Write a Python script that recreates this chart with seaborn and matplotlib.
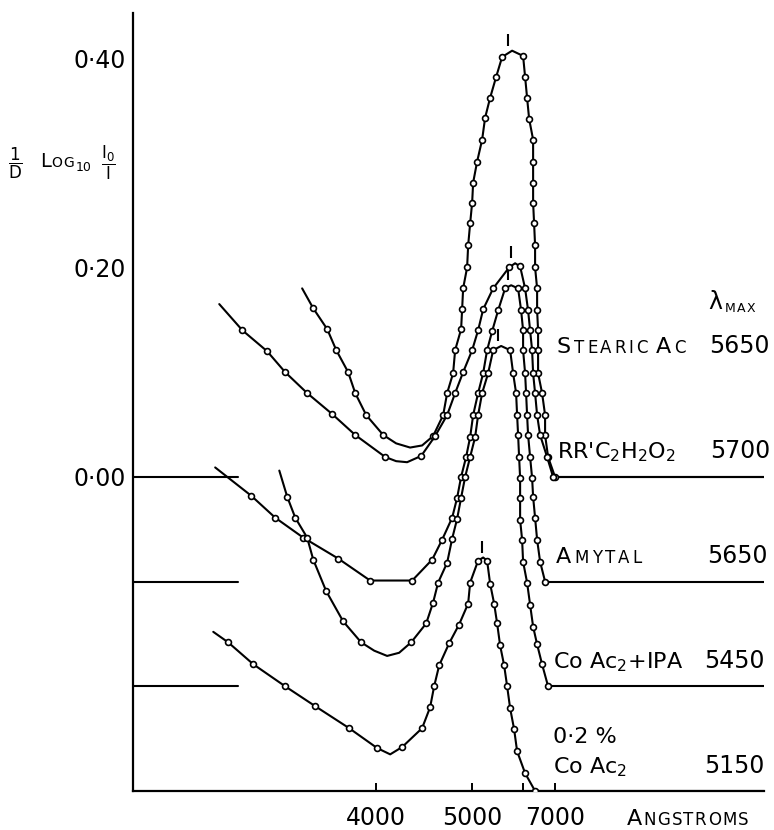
import numpy as np
import pandas as pd
import seaborn as sns
import matplotlib.pyplot as plt

# Absorption spectra (1/D log10 I0/I), wavelength in Angstroms.
# Each curve is drawn shifted down by its offset; *_BARE marks line-only points.
STEARIC_WL = [3567, 3621, 3694, 3744, 3814, 3858, 3930, 4052, 4154, 4275, 4389, 4503,
              4616, 4663, 4737, 4763, 4842, 4856, 4870, 4926, 4941, 4970, 5000, 5015,
              5076, 5157, 5207, 5294, 5405, 5522, 5735, 5999, 6051, 6104, 6159, 6272,
              6272, 6272, 6272, 6301, 6330, 6330, 6391, 6391, 6421, 6421, 6421, 6548,
              6648, 6648, 6752, 7010]
STEARIC_ABS = [0.180, 0.161, 0.141, 0.121, 0.100, 0.080, 0.059, 0.040, 0.032, 0.028,
               0.030, 0.039, 0.059, 0.080, 0.099, 0.121, 0.141, 0.160, 0.180, 0.200,
               0.221, 0.242, 0.262, 0.281, 0.301, 0.322, 0.343, 0.362, 0.382, 0.401,
               0.407, 0.402, 0.382, 0.362, 0.342, 0.322, 0.301, 0.281, 0.262, 0.242,
               0.221, 0.200, 0.180, 0.159, 0.140, 0.121, 0.099, 0.080, 0.059, 0.040,
               0.019, 0.000]
STEARIC_BARE = [0, 8, 9, 10, 30]

RR_WL = [3244, 3322, 3415, 3490, 3591, 3721, 3858, 4067, 4154, 4248, 4380, 4525, 4663,
         4763, 4870, 5000, 5092, 5174, 5349, 5669, 5804, 5924, 6051, 6131, 6186, 6243,
         6272, 6330, 6391, 6484, 6717, 6936]
RR_ABS = [0.165, 0.140, 0.120, 0.100, 0.080, 0.060, 0.040, 0.019, 0.015, 0.014, 0.020,
          0.039, 0.059, 0.080, 0.100, 0.121, 0.140, 0.160, 0.180, 0.200, 0.204, 0.201,
          0.180, 0.159, 0.140, 0.121, 0.099, 0.080, 0.059, 0.040, 0.019, 0.000]
RR_BARE = [0, 8, 9, 20]

AMYTAL_WL = [3231, 3354, 3448, 3572, 3755, 3957, 4294, 4493, 4604, 4725, 4789, 4842,
             4912, 4970, 5015, 5092, 5174, 5241, 5330, 5443, 5583, 5713, 5875, 5949,
             5999, 5999, 6051, 6077, 6104, 6131, 6186, 6243, 6272, 6330, 6391, 6484, 6648]
AMYTAL_ABS = [0.109, 0.082, 0.061, 0.042, 0.022, 0.001, 0.001, 0.021, 0.040, 0.061,
              0.080, 0.100, 0.119, 0.138, 0.159, 0.180, 0.199, 0.221, 0.239, 0.259,
              0.280, 0.283, 0.280, 0.259, 0.240, 0.221, 0.199, 0.180, 0.159, 0.140,
              0.119, 0.099, 0.081, 0.061, 0.040, 0.019, 0.000]
AMYTAL_BARE = [0, 21]

IPA_WL = [3465, 3499, 3535, 3591, 3621, 3688, 3784, 3896, 3986, 4082, 4179, 4285, 4430,
          4503, 4558, 4663, 4725, 4789, 4842, 4898, 4970, 5045, 5092, 5157, 5259, 5349,
          5502, 5691, 5758, 5827, 5851, 5875, 5899, 5924, 5924, 5924, 5974, 5999, 6104,
          6186, 6272, 6391, 6548, 6752]
IPA_ABS = [0.206, 0.181, 0.161, 0.142, 0.121, 0.091, 0.062, 0.042, 0.034, 0.029, 0.032,
           0.042, 0.060, 0.080, 0.099, 0.118, 0.141, 0.160, 0.180, 0.200, 0.219, 0.238,
           0.259, 0.280, 0.299, 0.321, 0.325, 0.321, 0.299, 0.280, 0.259, 0.240, 0.219,
           0.199, 0.180, 0.159, 0.140, 0.119, 0.099, 0.078, 0.057, 0.040, 0.021, 0.000]
IPA_BARE = [0, 8, 9, 10, 26]

COAC_WL = [3225, 3273, 3362, 3490, 3631, 3820, 4007, 4106, 4205, 4389, 4471, 4514,
           4570, 4687, 4815, 4941, 4970, 5092, 5174, 5241, 5294, 5367, 5424, 5482,
           5563, 5626, 5691, 5781, 5851, 6051, 6330]
COAC_ABS = [0.152, 0.142, 0.121, 0.100, 0.081, 0.060, 0.041, 0.035, 0.042, 0.060,
            0.080, 0.100, 0.120, 0.141, 0.159, 0.179, 0.199, 0.220, 0.223, 0.220,
            0.198, 0.179, 0.160, 0.139, 0.120, 0.100, 0.079, 0.059, 0.038, 0.017, 0.000]
COAC_BARE = [0, 7, 18]

OFFSETS = [0.0, 0.0, -0.1, -0.2, -0.3]
LAMBDA_MAX = [5650, 5700, 5650, 5450, 5150]
NAMES = ['Stearic Ac', "RR'C$_2$H$_2$O$_2$", 'Amytal', 'Co Ac$_2$+IPA', 'Co Ac$_2$']

XTICKS = [4000, 5000, 6000, 7000]
XTICK_LABELS = ['4000', '5000', '', '7000']
YTICKS = [0.0, 0.2, 0.4]
YTICK_LABELS = ['0·00', '0·20', '0·40']


# prism-type wavelength scale (Hartmann form), continued linearly past 7000 A
L0, C, KNEE = 1734.0, 710600.0, 7000.0
P_KNEE = -C / (KNEE - L0)
SLOPE = C / (KNEE - L0) ** 2


def fwd(w):
    w = np.asarray(w, dtype=float)
    curved = -C / (np.maximum(w, 2000.0) - L0)
    lin = P_KNEE + (w - KNEE) * SLOPE
    return np.where(w <= KNEE, curved, lin)


def inv(p):
    p = np.asarray(p, dtype=float)
    curved = L0 - C / np.minimum(p, P_KNEE)
    lin = KNEE + (p - P_KNEE) / SLOPE
    return np.where(p <= P_KNEE, curved, lin)


sns.set_theme(style='white', rc={'text.color': 'black', 'xtick.color': 'black',
                                 'ytick.color': 'black', 'axes.edgecolor': 'black'})
plt.rcParams['font.family'] = ['DejaVu Sans']
plt.rcParams['mathtext.fontset'] = 'dejavusans'
plt.rcParams['mathtext.default'] = 'regular'

W, H, DPI = 774, 830, 100
fig = plt.figure(figsize=(W / DPI, H / DPI), dpi=DPI)
ax = fig.add_axes([133 / W, 1 - 791 / H, (764 - 133) / W, (791 - 13) / H])

curves = [
    (STEARIC_WL, STEARIC_ABS, STEARIC_BARE),
    (RR_WL, RR_ABS, RR_BARE),
    (AMYTAL_WL, AMYTAL_ABS, AMYTAL_BARE),
    (IPA_WL, IPA_ABS, IPA_BARE),
    (COAC_WL, COAC_ABS, COAC_BARE),
]

for (wl, ab, bare), off in zip(curves, OFFSETS):
    df = pd.DataFrame({'wl': wl, 'y': np.array(ab) + off})
    sns.lineplot(data=df, x='wl', y='y', estimator=None, sort=False,
                 color='black', lw=1.5, ax=ax)
    sns.scatterplot(data=df.drop(index=bare), x='wl', y='y', s=18, color='white',
                    edgecolor='black', linewidth=1.2, zorder=3, ax=ax)

ax.set_xscale('function', functions=(fwd, inv))
ax.set_xlim(3010, 15170)
ax.set_ylim(-0.3, 0.443)

# baselines: continue each curve to the right edge, short stubs at the left axis
right_end = ax.get_xlim()[1]
for (wl, ab, bare), off in zip(curves, OFFSETS):
    ax.hlines(off, wl[-1], right_end, color='black', lw=1.5)
for off in sorted(set(OFFSETS))[1:]:
    ax.axhline(off, xmin=0, xmax=0.166, color='black', lw=1.5)

# lambda-max marks above each peak
for (wl, ab, bare), off, lm in zip(curves, OFFSETS, LAMBDA_MAX):
    ax.plot([lm], [max(ab) + off + 0.0105], marker='|', ms=8, mew=1.5,
            color='black', ls='none')

ax.spines[['top', 'right']].set_visible(False)
for side in ['left', 'bottom']:
    ax.spines[side].set_linewidth(1.6)
    ax.spines[side].set_color('black')

ax.set_xticks(XTICKS)
ax.set_xticklabels(XTICK_LABELS)
ax.minorticks_off()
ax.tick_params(axis='x', bottom=True, direction='in', length=6, width=1.4,
               labelsize=17, pad=11)
ax.set_yticks(YTICKS)
ax.set_yticklabels(YTICK_LABELS)
ax.tick_params(axis='y', left=False, length=0, labelsize=17, pad=5)
ax.set_xlabel('')
ax.set_ylabel('')

renderer = fig.canvas.get_renderer()


def put_text(x, y, s, size=16, ha='left', va='baseline'):
    return fig.text(x / W, 1 - y / H, s, fontsize=size, ha=ha, va=va)


def put_caps(x, y, s, big, small, track, gap=5):
    # lowercase letters come out as small capitals
    for ch in s:
        if ch == ' ':
            x += gap
            continue
        t = put_text(x, y, ch.upper(), size=small if ch.islower() else big)
        x = t.get_window_extent(renderer=renderer).x1 + track
    return x


# y axis label
put_text(8, 163, r'$\dfrac{1}{D}$', size=12, va='center')
x_log = put_caps(40, 167, 'Log', 14, 10, 0.8)
put_text(x_log + 1, 171, '10', size=9)
put_text(101, 163, r'$\dfrac{I_0}{I}$', size=12, va='center')

# x axis unit
put_caps(627, 825, 'Angstroms', 16, 12, 1.3)

# right hand legend
put_text(708, 309, 'λ', size=17)
put_caps(725, 312, 'max', 9, 9, 1)

put_caps(557, 353, NAMES[0], 16, 12, 2.8, gap=5)
put_text(770, 353, str(LAMBDA_MAX[0]), size=17, ha='right')
put_text(557, 458, NAMES[1], size=16)
put_text(770, 458, str(LAMBDA_MAX[1]), size=17, ha='right')
put_caps(556, 563, NAMES[2], 16, 12, 3)
put_text(768, 563, str(LAMBDA_MAX[2]), size=17, ha='right')
put_text(553, 668, NAMES[3], size=16)
put_text(765, 668, str(LAMBDA_MAX[3]), size=17, ha='right')
put_text(553, 743, '0·2 %', size=16)
put_text(553, 773, NAMES[4], size=16)
put_text(765, 773, str(LAMBDA_MAX[4]), size=17, ha='right')

fig.savefig('out.png', dpi=DPI)
